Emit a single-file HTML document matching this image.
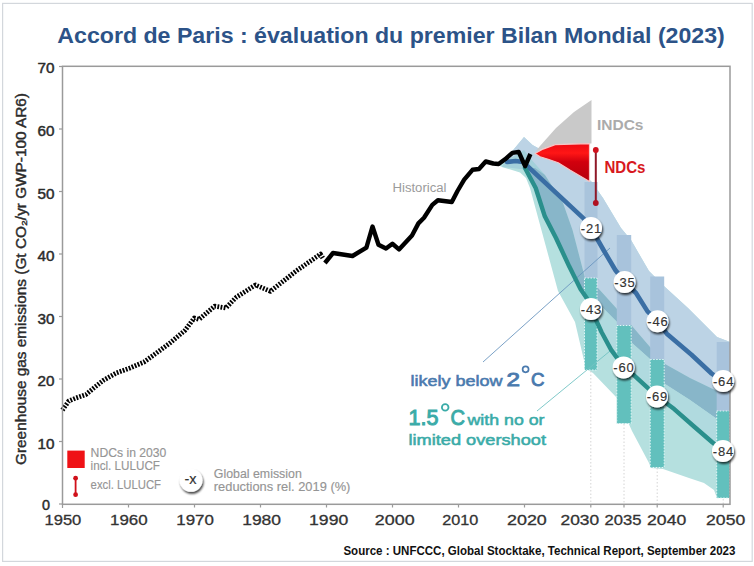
<!DOCTYPE html>
<html><head><meta charset="utf-8">
<style>
html,body{margin:0;padding:0;background:#fff;width:754px;height:566px;overflow:hidden}
svg{display:block}
text{font-family:"Liberation Sans",sans-serif}
</style></head>
<body>
<svg width="754" height="566" viewBox="0 0 754 566">
<defs>
<filter id="sh" x="-50%" y="-50%" width="200%" height="200%">
<feGaussianBlur in="SourceAlpha" stdDeviation="1.3"/>
<feOffset dx="1.3" dy="1.6" result="b"/>
<feComponentTransfer><feFuncA type="linear" slope="0.75"/></feComponentTransfer>
<feMerge><feMergeNode/><feMergeNode in="SourceGraphic"/></feMerge>
</filter>
</defs>
<rect x="0" y="0" width="754" height="566" fill="#fff"/>
<rect x="2.6" y="3.4" width="749.6" height="558" fill="none" stroke="#d3d7dc" stroke-width="1.2"/>

<!-- Title -->
<text x="57.3" y="43.1" font-size="22.6" font-weight="bold" fill="#2c5388" textLength="667.5" lengthAdjust="spacingAndGlyphs">Accord de Paris : évaluation du premier Bilan Mondial (2023)</text>

<!-- BANDS -->
<g id="bands">
<!-- light teal 1.5C range (whole) -->
<polygon fill="#b5e0df" points="497,163 506,159 514,149 524,137 532.5,145 538,148 591,181 603,198 621,228 631,240 642,259 649,271 665,287 688,308 717,337 730,342 730,498 717,498 714,490 704,483 689,478 663,469 651,468 649,463 632,431 617,398 593,373 586,369 575,322 558,291 530,188 526,178 520,172.5 502,167 498,165"/>
<!-- light blue 2C range down to band upper edge -->
<polygon fill="#bcd3e5" points="497,163 506,159 514,149 524,137 532.5,145 538,148 591,181 603,198 621,228 631,240 642,259 649,271 665,287 688,308 717,337 730,342 730,395 717,391 690,378 665,364 650,347 632,326 617,309 598,288 584.5,276 572.5,230 563,203 545,175 530,160 518,158 505,161"/>
<!-- mid teal-blue under blue line near 2020 -->
<polygon fill="#a3d0da" points="505,161 518,154 524,150 530,158 545,175 528,170 512,168 502,167"/>
<!-- slate band -->
<polygon fill="#88b6c9" points="526,168 535,168 545,175 563,203 572.5,230 584.5,276 598,288 617,309 632,326 650,347 665,364 690,378 717,391 730,395 730,422 717,419 690,400 665,384 650,359 632,343 617,322 598,303 587,298.5 580.5,289 569.3,266.6 556,238 544.8,216.3 535.7,188 527,172"/>
<!-- mid teal-blue between band lower edge and teal line (after 2030) -->
<polygon fill="#b0dadf" points="591,300 598,303 617,322 632,343 650,359 665,384 690,400 717,419 730,422 730,452 723,451 712.5,442.5 694,426.5 674,409 657,396 634.6,375.8 623.6,367 611,349.6 601.5,332 591,309"/>
</g>

<!-- INDC gray wedge -->
<polygon fill="#c9c9c9" points="536,151 540,146 556,128 574,112 591.5,100 591.5,143.6 561,144 548,147"/>
<!-- NDC red wedge -->
<defs><linearGradient id="rg" x1="0" y1="0" x2="0" y2="1">
<stop offset="0" stop-color="#ee0a12"/><stop offset="0.25" stop-color="#ff1616"/><stop offset="0.48" stop-color="#d2000e"/><stop offset="1" stop-color="#b4000c"/></linearGradient></defs>
<polygon fill="url(#rg)" stroke="#f7c4c4" stroke-width="1.2" stroke-linejoin="round" points="535,153.6 543.1,149.1 555.2,144.6 589.5,143.6 589.5,181.4 570.3,170.3 558.2,162.7 548.2,159.2 540.1,156.7"/>

<!-- vertical interquartile bars -->
<g>
<rect x="584.5" y="182" width="13" height="96" fill="#a9c4dc"/>
<rect x="584.5" y="278" width="12.5" height="92" fill="#62c0bd" stroke="#e0f6f6" stroke-width="1" stroke-dasharray="1.5,1.5"/>
<rect x="616.8" y="235" width="14.4" height="90.5" fill="#a8c3dc"/>
<rect x="616.8" y="325.5" width="14.4" height="98" fill="#62c0bd" stroke="#e0f6f6" stroke-width="1" stroke-dasharray="1.5,1.5"/>
<rect x="650.2" y="276.5" width="14" height="83" fill="#a8c3dc"/>
<rect x="650.2" y="359.5" width="14" height="108" fill="#62c0bd" stroke="#e0f6f6" stroke-width="1" stroke-dasharray="1.5,1.5"/>
<rect x="716.7" y="342" width="13" height="69" fill="#a8c3dc"/>
<rect x="716.7" y="411" width="13" height="87" fill="#62c0bd" stroke="#e0f6f6" stroke-width="1" stroke-dasharray="1.5,1.5"/>
</g>

<!-- dotted gridlines -->
<g stroke="#d4d4d4" stroke-width="1" stroke-dasharray="1.5,2">
<line x1="590.8" y1="371" x2="590.8" y2="504"/>
<line x1="624" y1="424" x2="624" y2="504"/>
<line x1="657.2" y1="468" x2="657.2" y2="504"/>
<line x1="723.2" y1="499" x2="723.2" y2="504"/>
</g>

<!-- leader lines -->
<line x1="483" y1="362" x2="610" y2="248" stroke="#6b96c0" stroke-width="0.9"/>
<line x1="537" y1="411" x2="610" y2="351" stroke="#72c3c3" stroke-width="0.9"/>

<!-- median lines -->
<polyline fill="none" stroke="#3a6ea4" stroke-width="4.6" stroke-linejoin="round" stroke-linecap="round" points="507,162 515.6,161 523,162 583.5,218.4 591,228 603.5,250 615.3,270 624.7,282 636,293 647.5,311.4 657.5,321 666.8,333.7 691.5,354.7 711.3,373.3 723,381"/>
<polyline fill="none" stroke="#2a8f8c" stroke-width="4.4" stroke-linejoin="round" stroke-linecap="round" points="525,168 535.7,188 544.8,216.3 556,238 569.3,266.6 580.5,289 587,298.5 591,309 601.5,332 611,349.6 623.6,367 634.6,375.8 657,396.3 674.2,409.1 694,426.5 712.5,442.5 723,451"/>

<!-- red excl LULUCF -->
<line x1="595.8" y1="150" x2="595.8" y2="203" stroke="#901828" stroke-width="2"/>
<circle cx="595.8" cy="150" r="2.9" fill="#d0101c"/>
<circle cx="595.8" cy="203" r="2.9" fill="#b01020"/>

<!-- historical dotted -->
<polyline fill="none" stroke="#000" stroke-width="4.8" stroke-dasharray="1.8,1.4" stroke-linejoin="round" points="62.4,410 68.8,401 76,398 86,394.5 95,387 103.3,380.4 116.3,373 130,368 144,362 153,355.5 170,343 185,330.3 194.3,318 199,319.4 214.7,306.1 225.8,308 236.4,297.1 255.5,285 270.4,291.3 296.4,270.8 320.5,254.1 322.8,258"/>
<!-- historical solid -->
<polyline fill="none" stroke="#000" stroke-width="4.4" stroke-linejoin="round" points="324.9,263 333,253 352.5,256 366.4,247.6 372.5,226.5 378.5,244.8 386,248.5 392.4,243.8 399,249.4 412,235.5 418.4,223.4 424,217.8 432.3,204.9 437.9,200.2 451.8,202 457.5,191 464.2,179.7 472.5,169.8 479,169 485.7,161.5 493.3,163.5 498.6,164 505,159.3 512.4,152.9 518.7,151.9 525.1,166.2 530.4,154"/>

<!-- axes frame -->
<rect x="62.5" y="66.3" width="667.5" height="438" fill="none" stroke="#9a9a9a" stroke-width="1.5"/>
<!-- y ticks -->
<g stroke="#9a9a9a" stroke-width="1.2">
<line x1="59" y1="66.5" x2="62.5" y2="66.5"/>
<line x1="59" y1="129" x2="62.5" y2="129"/>
<line x1="59" y1="191.5" x2="62.5" y2="191.5"/>
<line x1="59" y1="254" x2="62.5" y2="254"/>
<line x1="59" y1="316.5" x2="62.5" y2="316.5"/>
<line x1="59" y1="379" x2="62.5" y2="379"/>
<line x1="59" y1="441.5" x2="62.5" y2="441.5"/>
<line x1="59" y1="504" x2="62.5" y2="504"/>
<!-- x ticks -->
<line x1="62.5" y1="504" x2="62.5" y2="508"/>
<line x1="128.5" y1="504" x2="128.5" y2="507.5"/>
<line x1="194.5" y1="504" x2="194.5" y2="507.5"/>
<line x1="260.5" y1="504" x2="260.5" y2="507.5"/>
<line x1="326.5" y1="504" x2="326.5" y2="507.5"/>
<line x1="392.5" y1="504" x2="392.5" y2="507.5"/>
<line x1="458.5" y1="504" x2="458.5" y2="507.5"/>
<line x1="524.5" y1="504" x2="524.5" y2="507.5"/>
<line x1="590.8" y1="504" x2="590.8" y2="507.5"/>
<line x1="624" y1="504" x2="624" y2="507.5"/>
<line x1="657.2" y1="504" x2="657.2" y2="507.5"/>
<line x1="723.2" y1="504" x2="723.2" y2="507.5"/>
</g>
<!-- y labels -->
<g font-size="14" fill="#2b2b2b" stroke="#2b2b2b" stroke-width="0.45" text-anchor="end">
<text x="54.5" y="72.8" textLength="17" lengthAdjust="spacingAndGlyphs">70</text>
<text x="54.5" y="136.2" textLength="17" lengthAdjust="spacingAndGlyphs">60</text>
<text x="54.5" y="198.7" textLength="17" lengthAdjust="spacingAndGlyphs">50</text>
<text x="54.5" y="261.2" textLength="17" lengthAdjust="spacingAndGlyphs">40</text>
<text x="54.5" y="323.7" textLength="17" lengthAdjust="spacingAndGlyphs">30</text>
<text x="54.5" y="386.2" textLength="17" lengthAdjust="spacingAndGlyphs">20</text>
<text x="54.5" y="448.7" textLength="17" lengthAdjust="spacingAndGlyphs">10</text>
<text x="50" y="509.6" textLength="8" lengthAdjust="spacingAndGlyphs">0</text>
</g>
<!-- x labels -->
<g font-size="14.8" fill="#333" stroke="#333" stroke-width="0.3">
<text x="44.5" y="525.2" textLength="36.8" lengthAdjust="spacingAndGlyphs">1950</text>
<text x="110.0" y="525.2" textLength="37.6" lengthAdjust="spacingAndGlyphs">1960</text>
<text x="176.3" y="525.2" textLength="37.6" lengthAdjust="spacingAndGlyphs">1970</text>
<text x="242.2" y="525.2" textLength="38.8" lengthAdjust="spacingAndGlyphs">1980</text>
<text x="309.1" y="525.2" textLength="39.1" lengthAdjust="spacingAndGlyphs">1990</text>
<text x="374.8" y="525.2" textLength="39.8" lengthAdjust="spacingAndGlyphs">2000</text>
<text x="442.2" y="525.2" textLength="36.0" lengthAdjust="spacingAndGlyphs">2010</text>
<text x="507.0" y="525.2" textLength="39.8" lengthAdjust="spacingAndGlyphs">2020</text>
<text x="560.5" y="525.2" textLength="38.6" lengthAdjust="spacingAndGlyphs">2030</text>
<text x="604.6" y="525.2" textLength="36.9" lengthAdjust="spacingAndGlyphs">2035</text>
<text x="647.1" y="525.2" textLength="39.1" lengthAdjust="spacingAndGlyphs">2040</text>
<text x="706.1" y="525.2" textLength="39.1" lengthAdjust="spacingAndGlyphs">2050</text>
</g>
<!-- y axis title -->
<text transform="translate(26,465) rotate(-90)" font-size="14" fill="#2b2b2b" stroke="#2b2b2b" stroke-width="0.4" textLength="372" lengthAdjust="spacingAndGlyphs">Greenhouse gas emissions (Gt CO₂/yr GWP-100 AR6)</text>

<!-- labels -->
<text x="392.5" y="191.5" font-size="12.5" fill="#9b9b9b" textLength="54" lengthAdjust="spacingAndGlyphs">Historical</text>
<text x="597" y="130" font-size="15" font-weight="bold" fill="#ababab" textLength="46.5" lengthAdjust="spacingAndGlyphs">INDCs</text>
<text x="604.4" y="172.7" font-size="16" font-weight="bold" fill="#d81820" textLength="41" lengthAdjust="spacingAndGlyphs">NDCs</text>

<g fill="#4a7aae" stroke="#4a7aae" stroke-width="0.55">
<text x="410.5" y="385.5" font-size="15.5" textLength="92" lengthAdjust="spacingAndGlyphs">likely below</text>
<text x="506.5" y="385.5" font-size="18.5" stroke-width="0.9" textLength="13.5" lengthAdjust="spacingAndGlyphs">2</text>
<text x="531" y="385.5" font-size="18.5" stroke-width="0.9" textLength="13.5" lengthAdjust="spacingAndGlyphs">C</text>
</g>
<circle cx="525.6" cy="369.3" r="3" fill="none" stroke="#4a7aae" stroke-width="1.7"/>
<g fill="#3aaba8" stroke="#3aaba8" stroke-width="0.55">
<text x="408.5" y="424.6" font-size="22" stroke-width="1" textLength="30" lengthAdjust="spacingAndGlyphs">1.5</text>
<text x="450.5" y="424.8" font-size="22" stroke-width="1" textLength="14.5" lengthAdjust="spacingAndGlyphs">C</text>
<text x="467.5" y="425" font-size="15.5" textLength="77" lengthAdjust="spacingAndGlyphs">with no or</text>
<text x="408.5" y="444.5" font-size="15.5" textLength="137.5" lengthAdjust="spacingAndGlyphs">limited overshoot</text>
</g>
<circle cx="445.2" cy="407.4" r="3.3" fill="none" stroke="#3aaba8" stroke-width="1.8"/>

<!-- legend -->
<rect x="67.3" y="450.6" width="17.4" height="17.4" fill="#ef1216"/>
<line x1="75.6" y1="478.2" x2="75.6" y2="494.7" stroke="#d0101a" stroke-width="1.8"/>
<circle cx="75.6" cy="478.2" r="2.4" fill="#d0101a"/>
<circle cx="75.6" cy="494.7" r="2.4" fill="#d0101a"/>
<g font-size="12.5" fill="#959595" stroke="#959595" stroke-width="0.15">
<text x="90.6" y="456.6" textLength="75.8" lengthAdjust="spacingAndGlyphs">NDCs in 2030</text>
<text x="90.6" y="469.7" textLength="69.4" lengthAdjust="spacingAndGlyphs">incl. LULUCF</text>
<text x="90.6" y="488.8" textLength="70.4" lengthAdjust="spacingAndGlyphs">excl. LULUCF</text>
<text x="213.8" y="477.5" textLength="88" lengthAdjust="spacingAndGlyphs">Global emission</text>
<text x="213.8" y="491.3" textLength="136.6" lengthAdjust="spacingAndGlyphs">reductions rel. 2019 (%)</text>
</g>

<!-- markers -->
<g filter="url(#sh)">
<circle cx="191" cy="480.3" r="11.5" fill="#fff"/>
<circle cx="591" cy="228" r="11" fill="#fff"/>
<circle cx="624.6" cy="282" r="11" fill="#fff"/>
<circle cx="657.5" cy="321.2" r="11" fill="#fff"/>
<circle cx="723.2" cy="381" r="11" fill="#fff"/>
<circle cx="591" cy="309" r="11" fill="#fff"/>
<circle cx="623.6" cy="367.4" r="11" fill="#fff"/>
<circle cx="657" cy="396.5" r="11" fill="#fff"/>
<circle cx="723" cy="451" r="11" fill="#fff"/>
</g>
<g font-size="13" fill="#333" stroke="#333" stroke-width="0.15">
<text x="190.5" y="484.2" font-size="14.5" text-anchor="middle">-x</text>
<text x="580.7" y="232.7" textLength="20.5" lengthAdjust="spacing">-21</text>
<text x="614.3" y="286.7" textLength="20.5" lengthAdjust="spacing">-35</text>
<text x="647.2" y="325.9" textLength="20.5" lengthAdjust="spacing">-46</text>
<text x="712.9" y="385.7" textLength="20.5" lengthAdjust="spacing">-64</text>
<text x="580.7" y="313.7" textLength="20.5" lengthAdjust="spacing">-43</text>
<text x="613.3" y="372.1" textLength="20.5" lengthAdjust="spacing">-60</text>
<text x="646.7" y="401.2" textLength="20.5" lengthAdjust="spacing">-69</text>
<text x="712.7" y="455.7" textLength="20.5" lengthAdjust="spacing">-84</text>
</g>

<!-- source -->
<text x="343.4" y="555" font-size="12" font-weight="bold" fill="#111" textLength="392" lengthAdjust="spacingAndGlyphs">Source : UNFCCC, Global Stocktake, Technical Report, September 2023</text>
</svg>
</body></html>
